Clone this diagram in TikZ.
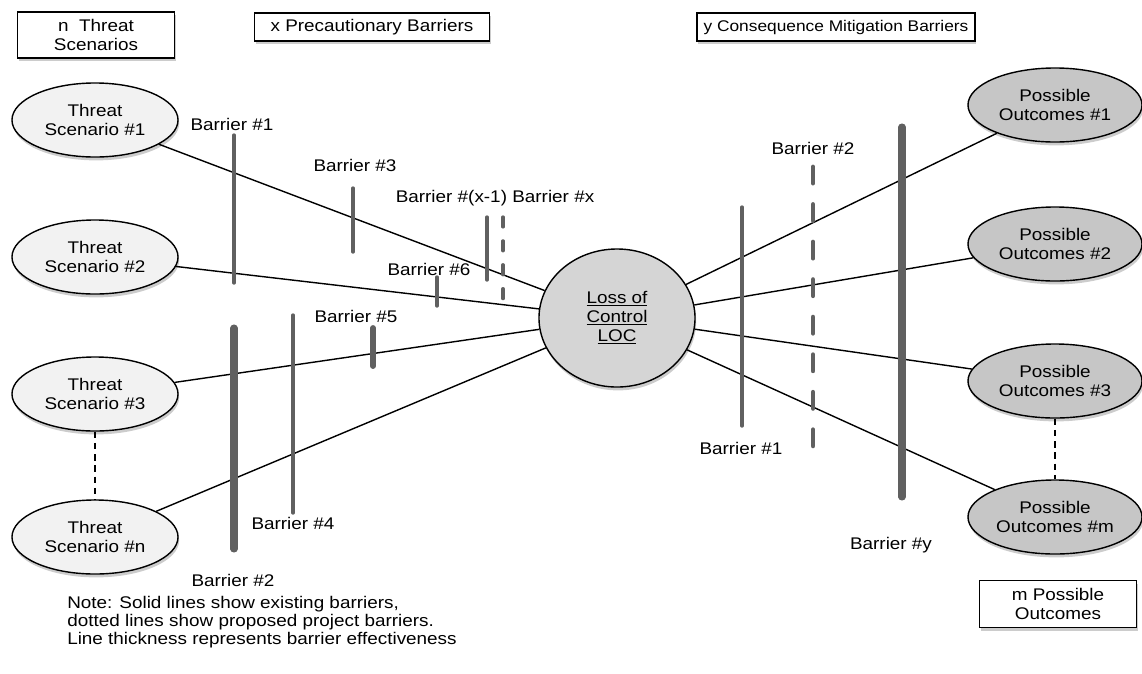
\documentclass[tikz,border=0pt]{standalone}
\usepackage{fontspec}
\setmainfont[FakeStretch=1.12]{Liberation Sans}
\usetikzlibrary{shapes.geometric,shadows,positioning}
\definecolor{barriergray}{HTML}{606060}

\begin{document}
\begin{tikzpicture}[
    x=0.025cm, y=-0.025cm,
    font=\fontsize{12}{13.5}\selectfont,
    softshadow/.style={drop shadow={opacity=0.4, shadow xshift=0.8pt, shadow yshift=-2.4pt}},
    title/.style={rectangle, draw, line width=1pt, fill=white, align=center, inner sep=0pt, softshadow},
    threat/.style={ellipse, draw, line width=1pt, fill=gray!10, minimum width=4.15cm, minimum height=1.85cm, inner sep=0pt, align=center, softshadow},
    outcome/.style={threat, fill=gray!45, minimum width=4.35cm},
    event/.style={threat, fill=gray!33, minimum width=3.9cm, minimum height=3.45cm},
    link/.style={line width=1pt},
    gap/.style={line width=1pt, dash pattern=on 4.5pt off 3.5pt},
    bar/.style={draw=barriergray, line width=2.4pt, line cap=round},
    thickbar/.style={bar, line width=5pt},
    lbl/.style={inner sep=0pt}
]
    \useasboundingbox (0,0) rectangle (1142,673);

    % Headings
    \node[title, minimum width=3.925cm, minimum height=1.15cm] (nbox) at (96,35) {n~ Threat\\Scenarios};
    \node[title, minimum width=5.875cm, minimum height=0.7cm] (xbox) at (372,27) {x Precautionary Barriers};
    \node[title, minimum width=6.95cm, minimum height=0.7cm, font=\fontsize{11}{13.5}\selectfont] (ybox) at (836,27) {y Consequence Mitigation Barriers};
    \node[title, minimum width=3.925cm, minimum height=1.175cm] (mbox) at (1058,604) {m Possible\\Outcomes};

    % Threats, top event, outcomes
    \node[threat] (ts1) at (95,120) {Threat\\Scenario \#1};
    \node[threat] (ts2) at (95,257) {Threat\\Scenario \#2};
    \node[threat] (ts3) at (95,394) {Threat\\Scenario \#3};
    \node[threat] (tsn) at (95,537) {Threat\\Scenario \#n};
    \node[event] (loc) at (617,318) {\underline{Loss of}\\\underline{Control}\\\underline{LOC}};
    \node[outcome] (po1) at (1055,105) {Possible\\Outcomes \#1};
    \node[outcome] (po2) at (1055,244) {Possible\\Outcomes \#2};
    \node[outcome] (po3) at (1055,381) {Possible\\Outcomes \#3};
    \node[outcome] (pom) at (1055,517) {Possible\\Outcomes \#m};

    % Links
    \foreach \t in {ts1,ts2,ts3,tsn}
        \draw[link] (\t) -- (loc);
    \foreach \o in {po1,po2,po3,pom}
        \draw[link] (loc) -- (\o);
    \draw[gap] (ts3) -- (tsn);
    \draw[gap] (po3) -- (pom);

    % Precautionary barriers
    \draw[bar] (234,135) -- (234,283);
    \draw[bar] (353,188) -- (353,252);
    \draw[bar] (487,217) -- (487,280);
    \draw[bar, dash pattern=on 7pt off 10pt] (503,217) -- (503,306);
    \draw[bar] (437,277) -- (437,306);
    \draw[bar, line width=4.2pt] (373,328) -- (373,366);
    \draw[thickbar] (234,328) -- (234,549);
    \draw[bar] (293,315) -- (293,513);

    % Mitigation barriers
    \draw[bar] (742,207) -- (742,426);
    \draw[bar, line width=3.5pt, dash pattern=on 11.4pt off 15.3pt] (813,167) -- (813,447);
    \draw[thickbar] (902,127) -- (902,497);

    % Barrier labels
    \node[lbl] (lb1) at (232,124) {Barrier \#1};
    \node[lbl] (lb3) at (355,165) {Barrier \#3};
    \node[lbl] (lbx) at (495,198) {Barrier \#(x-1) Barrier \#x};
    \node[lbl] (lb6) at (429,269) {Barrier \#6};
    \node[lbl] (lb5) at (356,316) {Barrier \#5};
    \node[lbl] (lb4) at (293,523) {Barrier \#4};
    \node[lbl] (lb2) at (233,580) {Barrier \#2};
    \node[lbl] (rb2) at (813,148) {Barrier \#2};
    \node[lbl] (rb1) at (741,448) {Barrier \#1};
    \node[lbl] (rby) at (891,545) {Barrier \#y};

    % Note
    \node[lbl, anchor=north west, align=left, font=\fontsize{12}{12.8}\selectfont] (note) at (67,596)
        {Note: Solid lines show existing barriers,\\dotted lines show proposed project barriers.\\Line thickness represents barrier effectiveness};
\end{tikzpicture}
\end{document}
